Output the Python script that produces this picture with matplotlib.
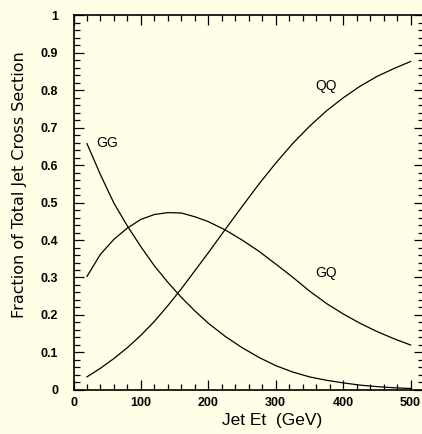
import numpy as np
import matplotlib.pyplot as plt
from matplotlib.ticker import MultipleLocator

# jet Et points (GeV) and subprocess fractions
et = [20, 40, 60, 80, 100, 120, 140, 160, 180, 200, 225, 250, 275, 300, 325, 350, 375, 400, 425, 450, 475, 500]
gg = [0.657, 0.574, 0.498, 0.437, 0.382, 0.331, 0.287, 0.247, 0.211, 0.178, 0.143, 0.113, 0.087, 0.065,
      0.048, 0.035, 0.026, 0.019, 0.013, 0.009, 0.006, 0.004]
gq = [0.303, 0.362, 0.402, 0.432, 0.455, 0.468, 0.473, 0.472, 0.462, 0.449, 0.427, 0.400, 0.370, 0.336,
      0.301, 0.264, 0.231, 0.203, 0.178, 0.156, 0.137, 0.120]
qq = [0.035, 0.058, 0.084, 0.113, 0.146, 0.183, 0.225, 0.270, 0.318, 0.366, 0.428, 0.489, 0.549, 0.605,
      0.657, 0.703, 0.744, 0.779, 0.810, 0.836, 0.857, 0.876]

bg = '#fffee6'
plt.rcParams['font.family'] = ['Liberation Sans', 'DejaVu Sans']

fig = plt.figure(figsize=(4.22, 4.34), dpi=100, facecolor=bg)
ax = fig.add_axes([0.1742, 0.1014, 0.8306, 0.864], facecolor=bg)

for y in (gg, gq, qq):
    ax.plot(et, y, color='black', lw=0.9)

ax.text(50, 0.66, 'GG', fontsize=10, ha='center', va='center')
ax.text(375, 0.81, 'QQ', fontsize=10, ha='center', va='center')
ax.text(375, 0.313, 'GQ', fontsize=10, ha='center', va='center')

ax.set_xlim(0, 520)
ax.set_ylim(0, 1)
ax.xaxis.set_minor_locator(MultipleLocator(20))
ax.yaxis.set_minor_locator(MultipleLocator(0.02))
ax.set_xticks([0, 100, 200, 300, 400, 500])
ax.set_yticks(np.arange(0, 1.01, 0.1))
ax.set_yticklabels(['0'] + ['%.1f' % v for v in np.arange(0.1, 0.95, 0.1)] + ['1'])
ax.tick_params(which='both', direction='in', top=True, right=True, width=0.9, labelsize=9)
ax.tick_params(axis='y', which='major', pad=11)
ax.tick_params(axis='x', which='major', pad=5)
ax.tick_params(which='major', length=7)
ax.tick_params(which='minor', length=4)
for lab in ax.get_xticklabels() + ax.get_yticklabels():
    lab.set_fontweight('bold')
for s in ax.spines.values():
    s.set_linewidth(1.2)

fig.text(272 / 422, 1 - 421 / 434, 'Jet Et  (GeV)', fontsize=12.5, ha='center', va='center')
fig.text(20 / 422, 1 - 185 / 434, 'Fraction of Total Jet Cross Section', fontsize=11.5,
         family='DejaVu Sans', rotation=90, ha='center', va='center')

fig.savefig('out.png', dpi=100, facecolor=bg)
